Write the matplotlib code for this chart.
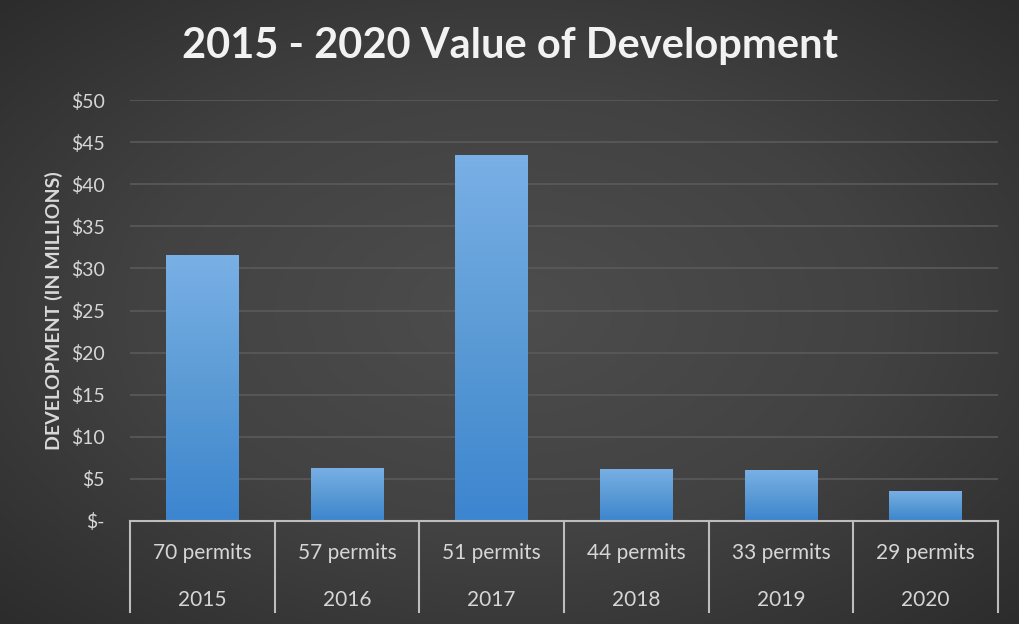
import numpy as np
import matplotlib.pyplot as plt
from matplotlib.colors import LinearSegmentedColormap

# data
years = ['2015', '2016', '2017', '2018', '2019', '2020']
permits = ['70 permits', '57 permits', '51 permits', '44 permits', '33 permits', '29 permits']
values = [31.6, 6.3, 43.5, 6.2, 6.05, 3.6]
yticks = [0, 5, 10, 15, 20, 25, 30, 35, 40, 45, 50]
ytick_labels = ['$-', '$5', '$10', '$15', '$20', '$25', '$30', '$35', '$40', '$45', '$50']

plt.rcParams['font.family'] = ['Lato', 'DejaVu Sans']

fig = plt.figure(figsize=(10.2, 6.24), dpi=100)

# radial dark background
bg = fig.add_axes([0, 0, 1, 1], zorder=-10)
gx, gy = np.meshgrid(np.linspace(-1, 1, 400), np.linspace(-1, 1, 250))
r = np.sqrt(gx**2 + gy**2)
bg_cmap = LinearSegmentedColormap.from_list('bg', ['#4d4d4d', '#424242', '#2b2b2b'])
bg.imshow(r, cmap=bg_cmap, aspect='auto', extent=[0, 1, 0, 1], vmin=0, vmax=1.45)
bg.axis('off')

ax = fig.add_axes([130 / 1020, 103 / 624, 868 / 1020, 421 / 624])
ax.set_facecolor('none')

x = np.arange(len(years))
bars = ax.bar(x, values, width=0.5, color='#5b9bd5', zorder=3)

# vertical gradient inside each bar
bar_cmap = LinearSegmentedColormap.from_list('bar', ['#3c85cf', '#5b9bd5', '#79b0e6'])
grad = np.linspace(0, 1, 256).reshape(-1, 1)
for b in bars:
    bx, by = b.get_x(), b.get_y()
    im = ax.imshow(grad, cmap=bar_cmap, aspect='auto', origin='lower',
                   extent=[bx, bx + b.get_width(), by, by + b.get_height()], zorder=4)
    im.set_clip_path(b)

ax.set_xlim(-0.5, len(years) - 0.5)
ax.set_ylim(0, 50)
ax.set_yticks(yticks)
ax.set_yticklabels(ytick_labels, color='#d6d6d6', fontsize=14)
ax.tick_params(axis='y', length=0, pad=18)
ax.set_xticks([])
ax.grid(axis='y', color='#5a5a5a', linewidth=1.2, zorder=0)
for s in ['top', 'right', 'left']:
    ax.spines[s].set_visible(False)
ax.spines['bottom'].set_color('#bdbdbd')
ax.spines['bottom'].set_linewidth(1.5)
ax.spines['bottom'].set_zorder(5)

# two-level category axis
tr = ax.get_xaxis_transform()
for i in range(len(years) + 1):
    ax.plot([i - 0.5, i - 0.5], [0, -0.215], transform=tr, color='#bdbdbd',
            linewidth=1.5, clip_on=False)
for i in range(len(years)):
    ax.text(i, -0.076, permits[i], transform=tr, ha='center', va='center',
            color='#d6d6d6', fontsize=15)
    ax.text(i, -0.188, years[i], transform=tr, ha='center', va='center',
            color='#d6d6d6', fontsize=15)

ax.set_ylabel('DEVELOPMENT (IN MILLIONS)', color='#d9d9d9', fontsize=14,
              fontweight='bold', labelpad=6)
fig.text(0.5, 0.927, '2015 - 2020 Value of Development', ha='center', va='center',
         color='#f2f2f2', fontsize=30, fontweight='bold')

plt.savefig('out.png', dpi=100)
